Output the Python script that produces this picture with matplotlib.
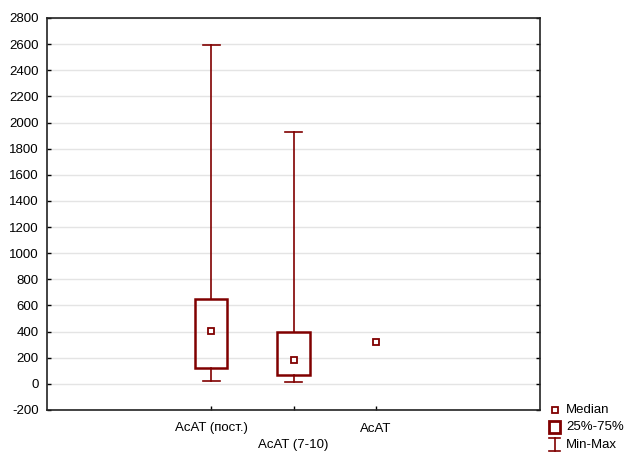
import matplotlib
matplotlib.use("Agg")
import matplotlib.pyplot as plt
from matplotlib.lines import Line2D
from matplotlib.patches import Rectangle

plt.rcParams['font.family'] = ['Liberation Sans', 'DejaVu Sans']

categories = ["AcAT (пост.)", "AcAT (7-10)", "AcAT"]
medians = [408, 184, 319]
q1 = [122, 69, None]
q3 = [650, 400, None]
mins = [21, 15, None]
maxs = [2590, 1925, None]
positions = [2, 3, 4]
yticks = list(range(-200, 2801, 200))

col = "#800000"
W, H = 625, 453
fig = plt.figure(figsize=(6.25, 4.53), dpi=100)
ax = fig.add_axes([47/W, 1 - 410/H, (540-47)/W, (410-18)/H])
ax.set_xlim(0, 6)
ax.set_ylim(-200, 2800)
ax.set_yticks(yticks)
ax.set_yticklabels([str(t) for t in yticks])
ax.yaxis.grid(True, color="#e4e4e4", linewidth=1)
ax.set_axisbelow(True)
ax.tick_params(axis='both', direction='in', length=3, width=1, labelsize=9.5)
ax.tick_params(axis='y', right=True, pad=6)
ax.tick_params(axis='x', pad=9)
for s in ax.spines.values():
    s.set_linewidth(1.2)
    s.set_color("#222222")

bw = 0.39
cw = 0.2
for p, md, a, b, mn, mx in zip(positions, medians, q1, q3, mins, maxs):
    if a is not None:
        ax.plot([p, p], [mn, a], color=col, lw=1.2, zorder=3)
        ax.plot([p, p], [b, mx], color=col, lw=1.2, zorder=3)
        ax.plot([p - cw/2, p + cw/2], [mn, mn], color=col, lw=1.2, zorder=3)
        ax.plot([p - cw/2, p + cw/2], [mx, mx], color=col, lw=1.2, zorder=3)
        ax.add_patch(Rectangle((p - bw/2, a), bw, b - a, fill=False,
                               edgecolor=col, lw=1.8, zorder=4))
    ax.plot([p], [md], marker='s', ms=5, mfc='white', mec=col, mew=1.3,
            linestyle='none', zorder=5)

ax.set_xticks(positions)
labels = []
for i, c in enumerate(categories):
    labels.append(c if i % 2 == 0 else "\n" + c)
ax.set_xticklabels(labels, linespacing=1.5)

# legend (drawn manually in figure pixel coordinates)
def fx(x): return x / W
def fy(y): return 1 - y / H

fig.add_artist(Line2D([fx(555)], [fy(410)], marker='s', ms=5, mfc='white',
                      mec=col, mew=1.3, linestyle='none'))
fig.add_artist(Rectangle((fx(549), fy(433)), 11/W, 12/H, fill=False,
                         edgecolor=col, lw=2, transform=fig.transFigure))
fig.add_artist(Line2D([fx(554.5), fx(554.5)], [fy(438), fy(451)], color=col, lw=1.2))
fig.add_artist(Line2D([fx(549), fx(560)], [fy(438), fy(438)], color=col, lw=1.2))
fig.add_artist(Line2D([fx(549), fx(560)], [fy(451), fy(451)], color=col, lw=1.2))
for txt, y in [("Median", 410), ("25%-75%", 427), ("Min-Max", 445)]:
    fig.text(fx(566), fy(y), txt, fontsize=9.5, va='center', ha='left')

fig.savefig("out.png", dpi=100)
